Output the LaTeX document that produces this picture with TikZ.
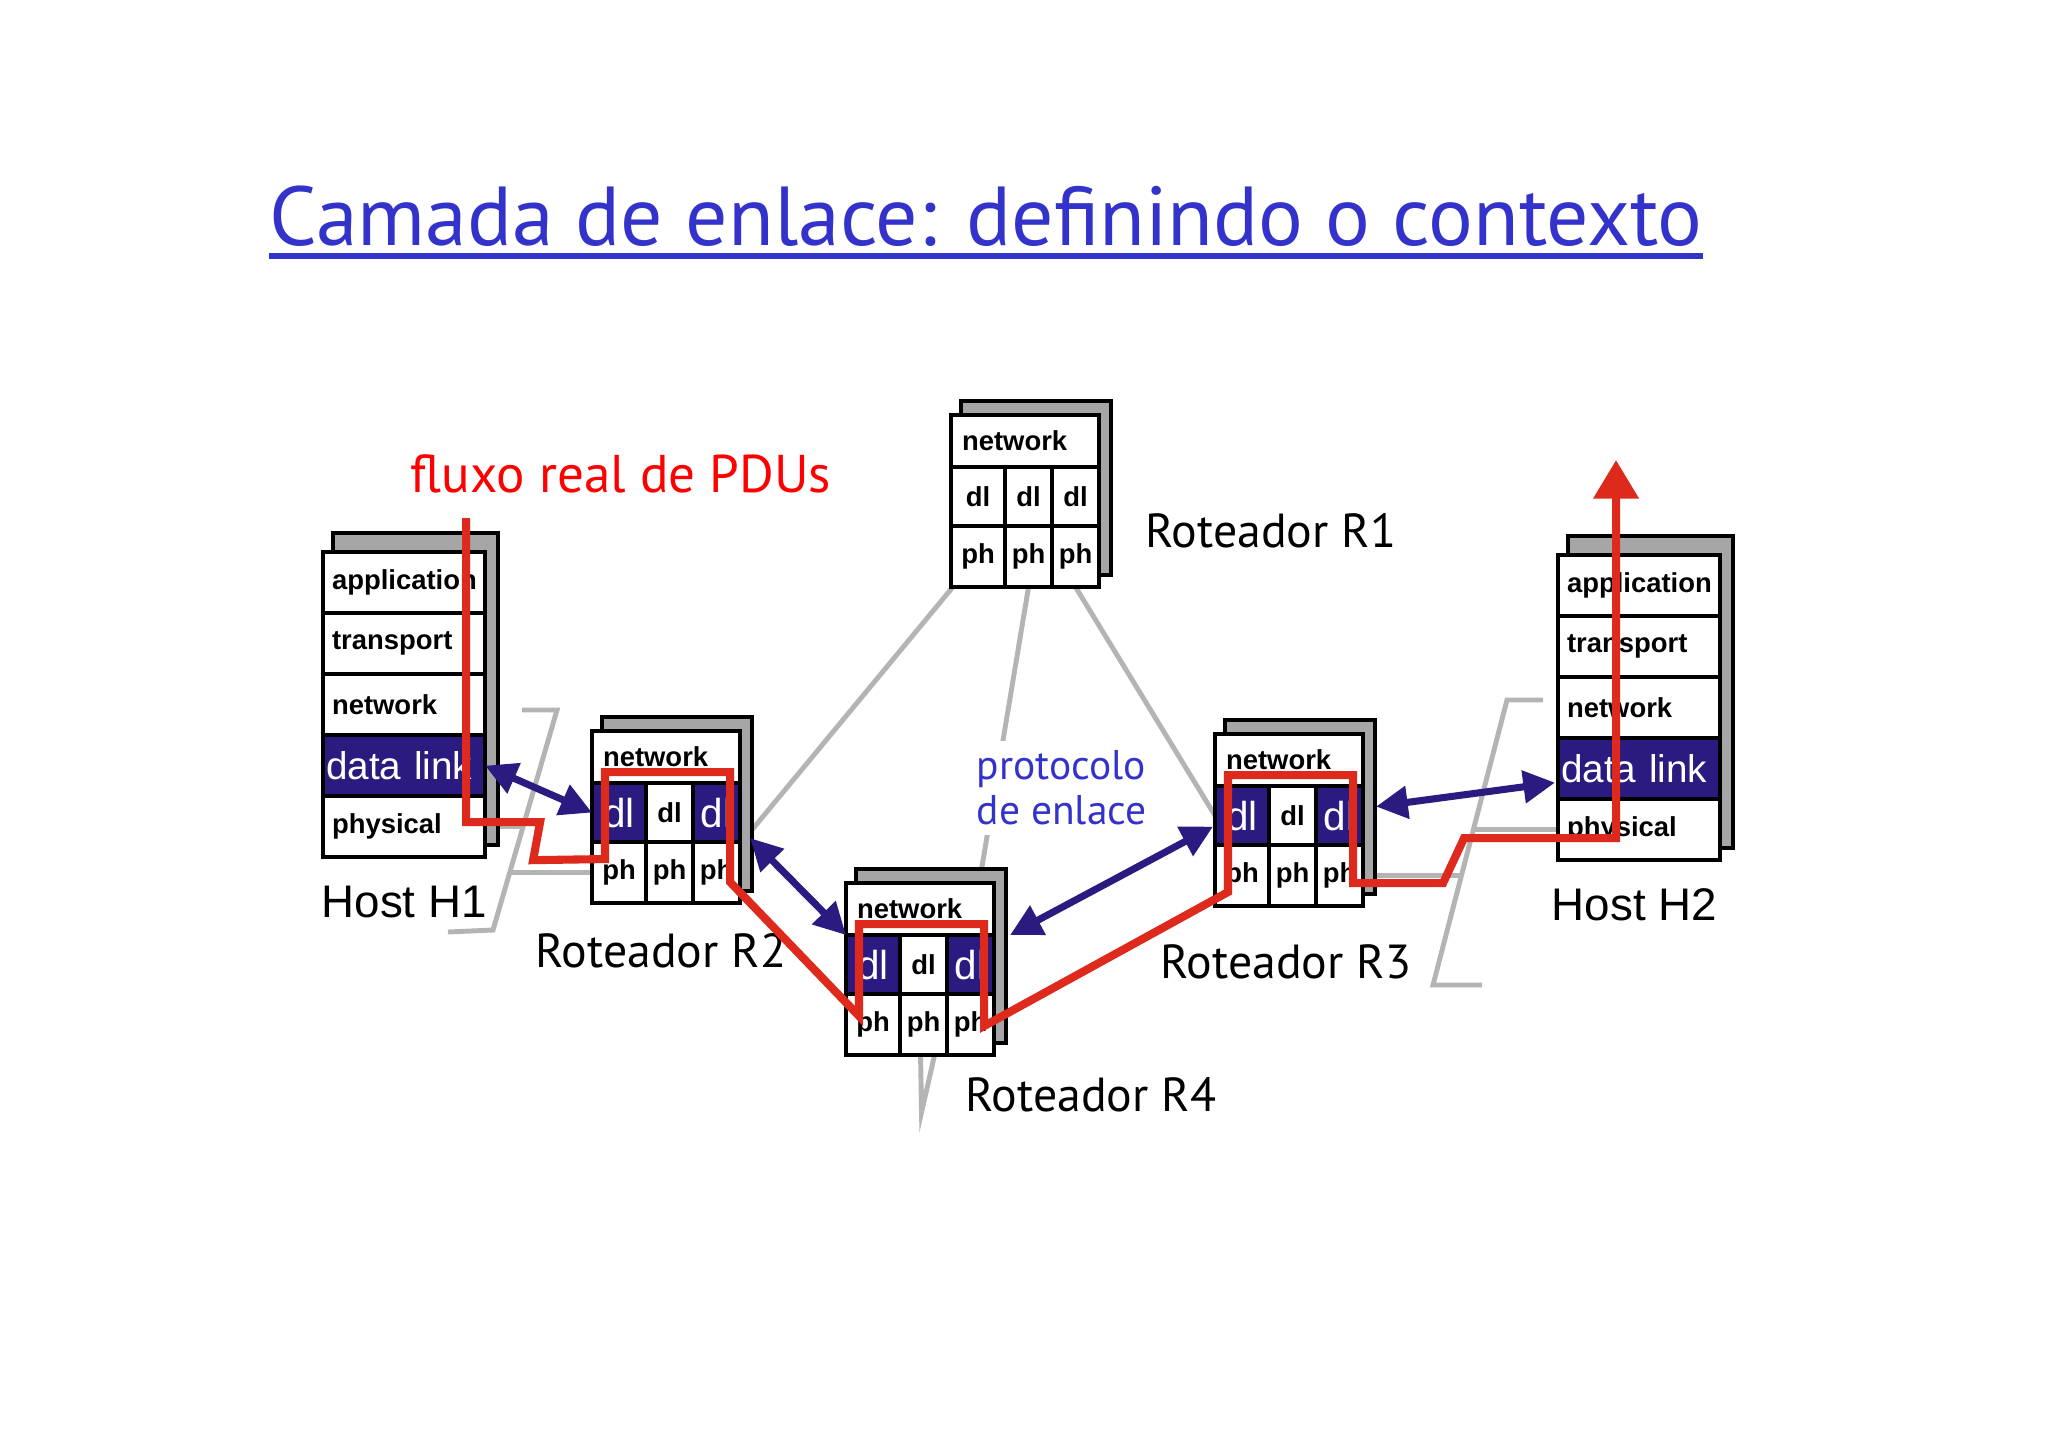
\documentclass[tikz,border=0pt]{standalone}
\usepackage{fontspec}
\setmainfont{Liberation Sans}
\newfontfamily\comicfont{PT Sans}
\usetikzlibrary{arrows.meta, positioning, calc, backgrounds}
\definecolor{dlcol}{HTML}{2B1A80}
\definecolor{pducol}{HTML}{DD2A1C}
\definecolor{linkcol}{HTML}{B4B4B4}
\definecolor{bluetext}{HTML}{3333CC}
\definecolor{backcol}{HTML}{A6A6A6}

\begin{document}
\begin{tikzpicture}[
  x=0.01cm, y=-0.01cm,
  cell/.style={draw, line width=1.2pt, fill=white, inner sep=0pt, outer sep=0pt,
    font=\bfseries\fontsize{7.8}{9}\selectfont},
  hlayer/.style={cell, minimum height=0.61cm, text width=1.44cm, inner xsep=0.09cm, align=left},
  rnet/.style={cell, minimum height=0.52cm, text width=1.26cm, inner xsep=0.11cm, align=left},
  dlside/.style={fill=dlcol, text=white, font=\fontsize{11.5}{12}\selectfont},
  hdl/.style={dlside, font=\fontsize{11}{12}\selectfont, text width=1.56cm, inner xsep=0.03cm},
  dlplain/.style={},
  backbox/.style={draw, line width=1.2pt, fill=backcol},
  link/.style={draw=linkcol, line width=1.4pt},
  pdu/.style={draw=pducol, line width=2.3pt, -{Triangle[length=11pt, width=12.5pt]}},
  dlarrow/.style={draw=dlcol, line width=2pt,
    {Triangle[length=9pt, width=9pt]}-{Triangle[length=9pt, width=9pt]}},
  comic/.style={font=\comicfont\fontsize{13.6}{15}\selectfont, inner sep=0pt},
  hostlab/.style={font=\fontsize{13}{15}\selectfont, inner sep=0pt},
]

\begin{scope}[on background layer]
  \fill[white] (0,0) rectangle (2048,1447);
\end{scope}
\path[use as bounding box] (0,0) rectangle (2048,1447);

% =================== title ===================
\node[comic, font=\comicfont\fontsize{23.8}{28}\selectfont, text=bluetext, anchor=base west]
  (title) at (269,245) {Camada de enlace: definindo o contexto};
\draw[bluetext, line width=1.6pt] ($(title.base west)+(0,11)$) -- ($(title.base east)+(0,11)$);

% =================== hosts ===================
\foreach \h/\x/\y in {h1/323/552, h2/1558/555} {
  \draw[backbox] (\x+10,\y-19) rectangle (\x+175,\y+293);
  \node[hlayer, anchor=north west] (\h-app) at (\x,\y) {application};
  \node[hlayer, below=0pt of \h-app] (\h-tr) {transport};
  \node[hlayer, below=0pt of \h-tr] (\h-net) {network};
  \node[hlayer, hdl, below=0pt of \h-net] (\h-dl) {data link};
  \node[hlayer, below=0pt of \h-dl] (\h-ph) {physical};
}

% =================== routers ===================
\foreach \r/\x/\y/\side in {r1/951/415/dlplain, r2/592/731/dlside, r3/1215/734/dlside, r4/846/883/dlside} {
  \draw[backbox] (\x+10,\y-14) rectangle (\x+160,\y+160);
  \node[rnet, anchor=north west] (\r-net) at (\x,\y) {network};
  \node[cell, \side, minimum width=0.54cm, minimum height=0.59cm,
    below=0pt of \r-net.south west, anchor=north west] (\r-dlA) {dl};
  \node[cell, minimum width=0.47cm, minimum height=0.59cm, right=0pt of \r-dlA] (\r-dlB) {dl};
  \node[cell, \side, minimum width=0.47cm, minimum height=0.59cm, right=0pt of \r-dlB] (\r-dlC) {dl};
  \node[cell, minimum width=0.54cm, minimum height=0.61cm, below=0pt of \r-dlA] (\r-phA) {ph};
  \node[cell, minimum width=0.47cm, minimum height=0.61cm, right=0pt of \r-phA] (\r-phB) {ph};
  \node[cell, minimum width=0.47cm, minimum height=0.61cm, right=0pt of \r-phB] (\r-phC) {ph};
  \coordinate (\r-up) at ($(\r-dlA.north west)+(13,-11)$);
  \coordinate (\r-dn) at ($(\r-dlC.north east)+(-10,-11)$);
}

% =================== physical links ===================
\begin{scope}[on background layer]
  \draw[link] (r1-phA) -- (r2-phC);
  \draw[link] (r1-phB.south) -- (r4-dlC.north);
  \draw[link] (r1-phC.south) -- (r3-dlA.west);
  \draw[link] ($(r4-phB.south)+(-3,0)$) -- ($(r4-phB.south)+(-2,57)$) -- ($(r4-phB.south)+(11,0)$);
  % LAN H1 - R2
  \draw[link] (522,710) -- (557,710) -- coordinate[pos=0.55] (lan1-h) coordinate[pos=0.74] (lan1-r) (493,930) -- (448,932);
  \draw[link] (h1-ph.east) -- (h1-ph.east -| lan1-h);
  \draw[link] (r2-phA.west) -- (r2-phA.west -| lan1-r);
  % LAN R3 - H2
  \draw[link] (1543,700) -- (1507,700) -- coordinate[pos=0.45] (lan2-h) coordinate[pos=0.62] (lan2-r) (1433,985) -- (1482,985);
  \draw[link] (h2-ph.west) -- (h2-ph.west -| lan2-h);
  \draw[link] (r3-phC.east) -- (r3-phC.east -| lan2-r);
\end{scope}

% =================== labels ===================
\node[comic, text=red, font=\comicfont\fontsize{15.1}{17}\selectfont, anchor=base west] (flow-lab) at (410,492) {fluxo real de PDUs};
\node[comic, anchor=base west] (r1-lab) at (1145,547) {Roteador R1};
\node[comic, anchor=base west] (r2-lab) at (535,967) {Roteador R2};
\node[comic, anchor=base west] (r3-lab) at (1160,978) {Roteador R3};
\node[comic, anchor=base west] (r4-lab) at (965,1111) {Roteador R4};
\node[hostlab, anchor=base west] (h1-lab) at (321,917) {Host H1};
\node[hostlab, anchor=base west] (h2-lab) at (1551,920) {Host H2};
\node[comic, text=bluetext, fill=white, align=left, inner sep=0.1cm,
  font=\comicfont\fontsize{11.8}{12.8}\selectfont, anchor=north west] (proto-lab) at (966,740) {protocolo\\de enlace};

% =================== actual PDU flow ===================
\draw[pdu] ($(h1-app.north east)+(-19,-34)$) -- ($(h1-ph.north east)+(-19,26)$)
  -- ++(74,0) -- ++(-7,38) -- ($(r2-up)+(0,87)$) -- (r2-up) -- (r2-dn) -- ($(r2-dn)+(0,110)$)
  -- ($(r4-up)+(0,92)$) -- (r4-up) -- (r4-dn) -- ($(r4-dn)+(0,102)$)
  -- ($(r3-up)+(0,117)$) -- (r3-up) -- (r3-dn) -- ($(r3-dn)+(0,108)$)
  -- ++(90,0) -- ++(21,-45) -| ($(h2-app.north)+(-23,-95)$);

% =================== link-layer protocol ===================
\draw[dlarrow] (h1-dl.east) -- (r2-dlA.west);
\draw[dlarrow] ($(r2-dlC.south east)+(10,-4)$) -- (r4-net.south west);
\draw[dlarrow] ($(r4-net.south east)+(16,0)$) -- ($(r3-dlA.west)+(-2,11)$);
\draw[dlarrow] ($(r3-dlC.east)+(13,-9)$) -- ($(h2-dl.west)+(-3,14)$);

\end{tikzpicture}
\end{document}
